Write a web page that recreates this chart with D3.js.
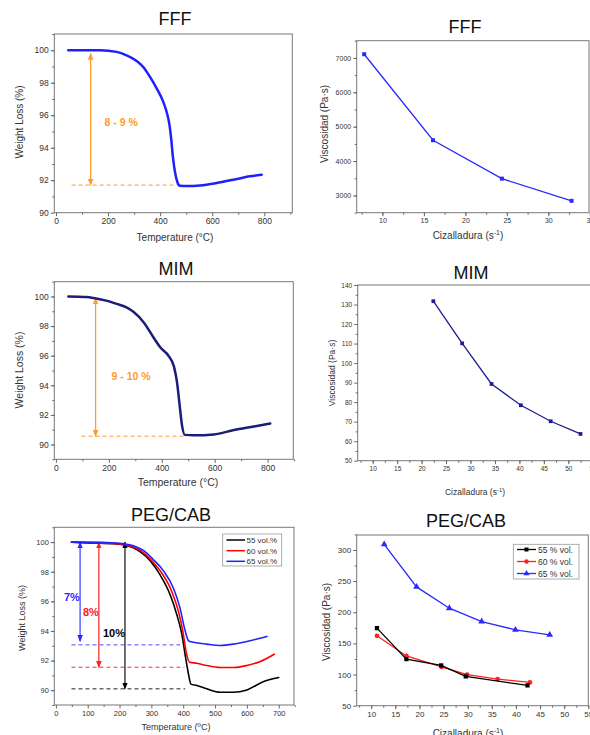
<!DOCTYPE html>
<html><head><meta charset="utf-8">
<script src="https://cdn.jsdelivr.net/npm/d3@7"></script>
<style>
body{margin:0;background:#fff;}
svg{display:block;font-family:"Liberation Sans",Arial,sans-serif;}
</style></head><body>
<script>
// ---- TGA data (temperature in C, weight %) ----
var fffTemp   = [47,100,169,233,271,310,335,361,387,412,425,435,443,449,457,466,476,502,553,617,681,745,790];
var fffWeight = [100,100,100,99.9,99.69,99.34,98.97,98.36,97.64,96.82,96.2,95.48,94.46,93.43,92.5,91.89,91.66,91.64,91.68,91.83,92.03,92.24,92.34];

var mimTemp   = [47,116,142,190,230,265,294,332,370,395,427,446,458,468,477,487,522,597,673,749,810];
var mimWeight = [100,99.96,99.9,99.72,99.5,99.28,98.95,98.25,97.2,96.55,95.96,95.28,94.16,92.58,91.24,90.65,90.62,90.68,90.98,91.22,91.42];

var peg55Temp   = [49,97,191,243,264,296,327,359,380,396,406,417,424,443,474,516,558,600,653,700];
var peg55Weight = [100,99.95,99.88,99.62,99.36,98.75,97.8,96.44,95.09,93.74,92.39,91.04,90.41,90.32,90.09,89.86,89.86,90.02,90.59,90.86];
var peg60Temp   = [49,97,191,248,270,301,333,364,385,399,409,420,443,474,516,558,600,642,686];
var peg60Weight = [100,99.96,99.9,99.62,99.38,98.75,97.9,96.67,95.32,93.96,92.6,91.89,91.82,91.67,91.53,91.53,91.67,91.94,92.43];
var peg65Temp   = [49,97,191,255,275,306,338,369,390,404,417,432,474,516,558,600,642,663];
var peg65Weight = [100,100,99.93,99.66,99.44,98.82,98.06,96.9,95.54,94.19,93.33,93.24,93.11,93.02,93.11,93.29,93.51,93.63];

// ---- viscosity data (shear rate s-1, Pa·s) ----
var fffShear = [7.8,16.1,24.4,32.8];
var fffVisc  = [7107,4606,3490,2845];

var mimShear = [22.4,28.3,34.3,40.3,46.4,52.5];
var mimVisc  = [131.7,110.1,89.3,78.4,70.2,63.7];

var peg55Shear = [11.2,17.3,24.5,29.6,42.4];
var peg55Visc  = [174.5,124.8,114.7,97,82.6];
var peg60Shear = [11.2,17.3,24.6,29.9,36.2,42.9];
var peg60Visc  = [162.2,129.8,112.2,99.8,92.8,87.4];
var peg65Shear = [12.7,19.4,26.2,32.9,39.9,47.0];
var peg65Visc  = [309,240.7,206.5,185.1,171.8,163.8];

// ---- annotations: [temperature of arrow, top, bottom, dash start, dash end, dash level] ----
var fffDrop = [133,99.8,91.7,60,476];
var mimDrop = [150,99.9,90.56,97,483];
var peg65Drop = [76,100,93.3,49,390,93.06];
var peg60Drop = [135,100,91.55,49,404,91.55];
var peg55Drop = [217,100,90.09,49,406,90.09];

var legendTga = ["55 vol.%","60 vol.%","65 vol.%"];
var legendVisc = ["55 % vol.","60 % vol.","65 % vol."];

var svg = d3.select("body").append("svg").attr("width",590).attr("height",735);
svg.append("rect").attr("width",590).attr("height",735).attr("fill","#fff");

var defs = svg.append("defs");
function arrowMarker(id, color) {
  defs.append("marker").attr("id",id).attr("viewBox","0 0 10 10")
    .attr("refX",9).attr("refY",5).attr("markerWidth",7).attr("markerHeight",7)
    .attr("markerUnits","userSpaceOnUse")
    .attr("orient","auto-start-reverse")
    .append("path").attr("d","M0,1 L10,5 L0,9 Z").attr("fill",color);
}
arrowMarker("a-or","#ff9a2e");
arrowMarker("a-bl","#2a2aff");
arrowMarker("a-rd","#ff2020");
arrowMarker("a-bk","#000");

function range(a,b,s){ var r=[]; for(var v=a; v<=b+1e-9; v+=s) r.push(+v.toFixed(3)); return r; }

function panel(c) {
  var x = d3.scaleLinear().domain(c.xDomain).range([c.left,c.right]);
  var y = d3.scaleLinear().domain(c.yDomain).range([c.bottom,c.top]);
  var g = svg.append("g");

  g.append("rect").attr("x",c.left).attr("y",c.top)
    .attr("width",c.right-c.left).attr("height",c.bottom-c.top)
    .attr("fill","none").attr("stroke","#777").attr("stroke-width",1);

  g.append("g").attr("transform","translate(0,"+c.bottom+")")
    .call(d3.axisBottom(x).tickValues(c.xTicks).tickSize(3.5).tickSizeOuter(0).tickPadding(2).tickFormat(d3.format("d")));
  g.append("g").attr("transform","translate(0,"+c.bottom+")")
    .call(d3.axisBottom(x).tickValues(c.xMinor).tickSize(2).tickSizeOuter(0).tickFormat(""));
  g.append("g").attr("transform","translate("+c.left+",0)")
    .call(d3.axisLeft(y).tickValues(c.yTicks).tickSize(3.5).tickSizeOuter(0).tickPadding(2).tickFormat(d3.format("d")));
  g.append("g").attr("transform","translate("+c.left+",0)")
    .call(d3.axisLeft(y).tickValues(c.yMinor).tickSize(2).tickSizeOuter(0).tickFormat(""));

  g.selectAll(".domain").remove();
  g.selectAll(".tick line").attr("stroke","#666");
  g.selectAll(".tick text").attr("fill","#333").style("font-size",c.tickFont+"px")
    .style("font-family","'Liberation Sans',Arial,sans-serif");

  svg.append("text").attr("x",c.titleX).attr("y",c.titleY).attr("text-anchor","middle")
    .style("font-size","18px").attr("fill","#111").text(c.title);

  var xt = svg.append("text").attr("x",c.xLabelX).attr("y",c.xLabelY).attr("text-anchor","middle")
    .style("font-size",c.labelFont+"px").attr("fill","#333").text(c.xLabel);
  if (c.sup) {
    xt.append("tspan").attr("dy",-c.labelFont*0.4).style("font-size",(c.labelFont*0.7)+"px").text("-1");
    xt.append("tspan").attr("dy",c.labelFont*0.4).text(")");
  }
  svg.append("text").attr("transform","translate("+c.yLabelX+","+c.yLabelY+") rotate(-90)")
    .attr("text-anchor","middle").style("font-size",c.labelFont+"px").attr("fill","#333").text(c.yLabel);

  return {x:x, y:y, g:g};
}

function tgaLine(p, temps, weights, color, width) {
  var pts = temps.map(function(t,i){ return [t, weights[i]]; });
  p.g.append("path").datum(pts)
    .attr("d", d3.line().x(function(d){return p.x(d[0]);}).y(function(d){return p.y(d[1]);}).curve(d3.curveMonotoneX))
    .attr("fill","none").attr("stroke",color).attr("stroke-width",width)
    .attr("stroke-linejoin","round").attr("stroke-linecap","round");
}

function drop(p, a, color, marker, dashY) {
  var yy = dashY === undefined ? a[2] : dashY;
  p.g.append("line").attr("x1",p.x(a[3])).attr("x2",p.x(a[4]))
    .attr("y1",p.y(yy)).attr("y2",p.y(yy))
    .attr("stroke",color).attr("stroke-width",1).attr("stroke-dasharray","4,3");
  p.g.append("line").attr("x1",p.x(a[0])).attr("x2",p.x(a[0]))
    .attr("y1",p.y(a[1])).attr("y2",p.y(a[2]))
    .attr("stroke",color).attr("stroke-width",1.3)
    .attr("marker-start","url(#"+marker+")").attr("marker-end","url(#"+marker+")");
}

function viscSeries(p, xs, ys, color, symbol, size) {
  var pts = xs.map(function(v,i){ return [v, ys[i]]; });
  p.g.append("path").datum(pts)
    .attr("d", d3.line().x(function(d){return p.x(d[0]);}).y(function(d){return p.y(d[1]);}))
    .attr("fill","none").attr("stroke",color).attr("stroke-width",1.3);
  p.g.selectAll(null).data(pts).enter().append("path")
    .attr("transform",function(d){ return "translate("+p.x(d[0])+","+p.y(d[1])+")"; })
    .attr("d", d3.symbol().type(symbol).size(size)).attr("fill",color);
}

// ---------- FFF TGA ----------
var p1 = panel({left:54.3, right:292.3, top:34, bottom:212.7, xDomain:[-6.5,907.5], yDomain:[90,101],
  xTicks:range(0,800,200), xMinor:range(100,900,200), yTicks:range(90,100,2), yMinor:range(91,101,1),
  tickFont:8.5, labelFont:10, title:"FFF", titleX:175, titleY:25,
  xLabel:"Temperature (°C)", xLabelX:175, xLabelY:241, yLabel:"Weight Loss (%)", yLabelX:23, yLabelY:122});
drop(p1, fffDrop, "#ff9a2e", "a-or");
tgaLine(p1, fffTemp, fffWeight, "#1f1fff", 2.5);
p1.g.append("text").attr("x",p1.x(fffDrop[0])+14).attr("y",126).attr("fill","#ff9a2e")
  .style("font-size","10.5px").style("font-weight","bold").text("8 - 9 %");

// ---------- FFF viscosity ----------
var p2 = panel({left:356.7, right:589, top:40.7, bottom:212.7, xDomain:[6.9,34.9], yDomain:[2500,7500],
  xTicks:range(10,35,5), xMinor:range(7.5,35,2.5), yTicks:range(3000,7000,1000), yMinor:range(2500,7500,500),
  tickFont:7, labelFont:10, title:"FFF", titleX:465, titleY:33,
  xLabel:"Cizalladura (s", sup:true, xLabelX:468, xLabelY:239, yLabel:"Viscosidad (Pa·s)", yLabelX:328, yLabelY:124});
viscSeries(p2, fffShear, fffVisc, "#2a2aff", d3.symbolSquare, 16);

// ---------- MIM TGA ----------
var p3 = panel({left:54.3, right:293.3, top:281.7, bottom:459.3, xDomain:[-6,897], yDomain:[89,101],
  xTicks:range(0,800,200), xMinor:range(100,900,200), yTicks:range(90,100,2), yMinor:range(89,101,1),
  tickFont:8.5, labelFont:10.5, title:"MIM", titleX:176, titleY:275,
  xLabel:"Temperature (°C)", xLabelX:178, xLabelY:486, yLabel:"Weight Loss (%)", yLabelX:23, yLabelY:370});
drop(p3, mimDrop, "#ff9a2e", "a-or");
tgaLine(p3, mimTemp, mimWeight, "#1c1c7a", 2.5);
p3.g.append("text").attr("x",p3.x(mimDrop[0])+16).attr("y",380).attr("fill","#ff9a2e")
  .style("font-size","10.5px").style("font-weight","bold").text("9 - 10 %");

// ---------- MIM viscosity ----------
var p4 = panel({left:357.7, right:592, top:285, bottom:460.7, xDomain:[6.93,54.85], yDomain:[50,140],
  xTicks:range(10,55,5), xMinor:range(7.5,55,2.5), yTicks:range(50,140,10), yMinor:range(55,135,10),
  tickFont:6.5, labelFont:8.5, title:"MIM", titleX:471, titleY:279,
  xLabel:"Cizalladura (s", sup:true, xLabelX:475, xLabelY:495, yLabel:"Viscosidad (Pa·s)", yLabelX:335, yLabelY:373});
viscSeries(p4, mimShear, mimVisc, "#1e1e8a", d3.symbolSquare, 14);

// ---------- PEG/CAB TGA ----------
var p5 = panel({left:54.3, right:294, top:527.3, bottom:705, xDomain:[-5,748], yDomain:[89,101],
  xTicks:range(0,700,100), xMinor:range(50,750,100), yTicks:range(90,100,2), yMinor:range(89,101,1),
  tickFont:7.5, labelFont:9, title:"PEG/CAB", titleX:171, titleY:521,
  xLabel:"Temperature (ºC)", xLabelX:176, xLabelY:730, yLabel:"Weight Loss (%)", yLabelX:25, yLabelY:618});
drop(p5, peg65Drop, "#4a4aff", "a-bl", peg65Drop[5]);
drop(p5, peg60Drop, "#ff3030", "a-rd", peg60Drop[5]);
drop(p5, peg55Drop, "#222", "a-bk", peg55Drop[5]);
tgaLine(p5, peg55Temp, peg55Weight, "#000", 1.6);
tgaLine(p5, peg60Temp, peg60Weight, "#ff0000", 1.6);
tgaLine(p5, peg65Temp, peg65Weight, "#2222ff", 1.6);
p5.g.append("text").attr("x",64).attr("y",601).attr("fill","#2a2aff")
  .style("font-size","11px").style("font-weight","bold").text("7%");
p5.g.append("text").attr("x",83).attr("y",616).attr("fill","#ff2020")
  .style("font-size","11px").style("font-weight","bold").text("8%");
p5.g.append("text").attr("x",103).attr("y",637).attr("fill","#000")
  .style("font-size","11px").style("font-weight","bold").text("10%");

var lg5 = p5.g.append("g");
lg5.append("rect").attr("x",222.7).attr("y",534).attr("width",59).attr("height",32)
  .attr("fill","#fff").attr("stroke","#999").attr("stroke-width",0.8);
[["#000",540],["#ff0000",550.7],["#2222ff",561.3]].forEach(function(e,i){
  lg5.append("line").attr("x1",226.5).attr("x2",245).attr("y1",e[1]).attr("y2",e[1])
    .attr("stroke",e[0]).attr("stroke-width",1.5);
  lg5.append("text").attr("x",246.5).attr("y",e[1]+2.8).style("font-size","8px").attr("fill","#333").text(legendTga[i]);
});

// ---------- PEG/CAB viscosity ----------
var p6 = panel({left:356.7, right:588.3, top:535, bottom:705.7, xDomain:[7,55], yDomain:[50,324],
  xTicks:range(10,55,5), xMinor:range(7.5,55,2.5), yTicks:range(50,300,50), yMinor:range(75,325,50),
  tickFont:8, labelFont:10, title:"PEG/CAB", titleX:466, titleY:527,
  xLabel:"Cizalladura (s", sup:true, xLabelX:468, xLabelY:737, yLabel:"Viscosidad (Pa·s)", yLabelX:330, yLabelY:622});
viscSeries(p6, peg60Shear, peg60Visc, "#ff2020", d3.symbolCircle, 18);
viscSeries(p6, peg55Shear, peg55Visc, "#000", d3.symbolSquare, 18);
viscSeries(p6, peg65Shear, peg65Visc, "#2a2aff", d3.symbolTriangle, 20);

var lg6 = p6.g.append("g");
lg6.append("rect").attr("x",513.3).attr("y",544.3).attr("width",65.7).attr("height",34.7)
  .attr("fill","#fff").attr("stroke","#999").attr("stroke-width",0.8);
[["#000",549.5,d3.symbolSquare],["#ff2020",561.5,d3.symbolCircle],["#2a2aff",573.5,d3.symbolTriangle]].forEach(function(e,i){
  lg6.append("line").attr("x1",517).attr("x2",536).attr("y1",e[1]).attr("y2",e[1])
    .attr("stroke",e[0]).attr("stroke-width",1.3);
  lg6.append("path").attr("transform","translate(526.5,"+e[1]+")")
    .attr("d",d3.symbol().type(e[2]).size(16)).attr("fill",e[0]);
  lg6.append("text").attr("x",538).attr("y",e[1]+3).style("font-size","8.5px").attr("fill","#333").text(legendVisc[i]);
});
</script>
</body></html>
